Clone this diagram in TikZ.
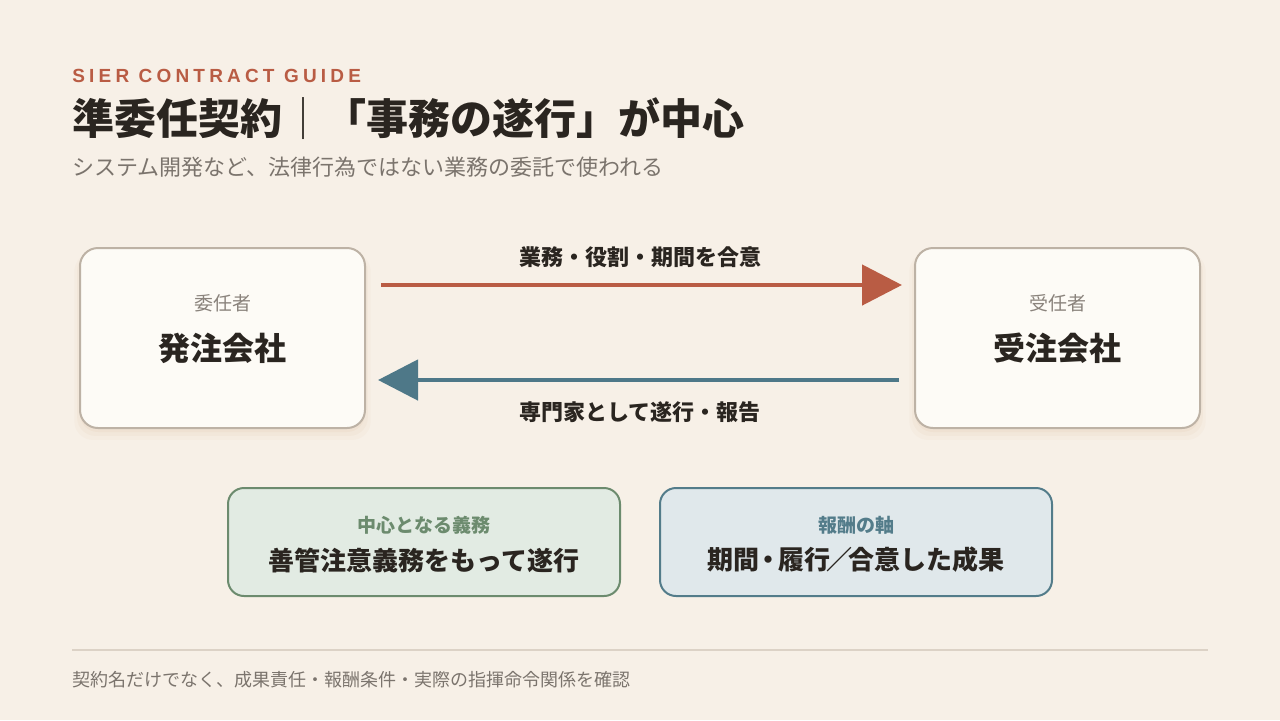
\documentclass[tikz,border=0pt]{standalone}
\usepackage{fontspec}
\setmainfont{Noto Sans CJK JP}
\newfontfamily\guidefont[LetterSpace=22]{Liberation Sans}
\usetikzlibrary{arrows.meta,shadows}
\definecolor{bg}{HTML}{F7F0E7}
\definecolor{accent}{HTML}{B95C44}
\definecolor{steel}{HTML}{4E7888}
\definecolor{ink}{HTML}{2A2520}
\definecolor{muted}{HTML}{7B746D}
\definecolor{rolegrey}{HTML}{8A837C}
\definecolor{partyline}{HTML}{BDB2A5}
\definecolor{partyfill}{HTML}{FDFBF6}
\definecolor{dutyline}{HTML}{6C8B6E}
\definecolor{dutyfill}{HTML}{E2EBE3}
\definecolor{feeline}{HTML}{537C8A}
\definecolor{feefill}{HTML}{E0E8EB}
\definecolor{rulegrey}{HTML}{DCD2C6}
\newcommand{\narrowpunct}[1]{\kern-1.8pt#1\kern-1.8pt}
\begin{document}
\begin{tikzpicture}[x=0.5pt, y=-0.5pt,
  party/.style={draw=partyline, line width=1pt, fill=partyfill, rounded corners=9pt,
    minimum width=142.5pt, minimum height=90pt,
    drop shadow={shadow xshift=0pt, shadow yshift=-4pt, shadow scale=1.04, opacity=0.03, fill=brown},
    drop shadow={shadow xshift=0pt, shadow yshift=-3pt, shadow scale=1.02, opacity=0.04, fill=brown},
    drop shadow={shadow xshift=0pt, shadow yshift=-2pt, opacity=0.05, fill=brown}},
  role/.style={inner sep=0, text=rolegrey, font=\fontsize{9.5}{11}\selectfont},
  firm/.style={inner sep=0, text=ink, font=\bfseries\fontsize{16}{19}\selectfont},
  flow/.style={line width=2.4pt, -{Triangle[length=20pt, width=20pt]}, shorten <=7.5pt, shorten >=6pt},
  flowlabel/.style={inner sep=0, text=ink, font=\bfseries\fontsize{11}{13}\selectfont},
  box/.style={line width=1pt, rounded corners=8pt, minimum width=196pt, minimum height=54pt},
  tag/.style={inner sep=0, font=\bfseries\fontsize{9.5}{11}\selectfont},
  point/.style={inner sep=0, text=ink, font=\bfseries\fontsize{13}{15}\selectfont}]
\useasboundingbox (0,0) rectangle (1280,720);
\fill[bg] (0,0) rectangle (1280,720);
\node[anchor=base west, inner sep=0, text=accent, font={\guidefont\bfseries\fontsize{9.5}{11}\selectfont}] (P_0_g) at (72,82) {SIER CONTRACT GUIDE};
\node[anchor=west, inner sep=0, text=ink, font=\bfseries\fontsize{21}{25}\selectfont] (P_0_h) at (72,119) {準委任契約{\mdseries ｜}「事務の遂行」が中心};
\node[anchor=west, inner sep=0, text=muted, font=\fontsize{11}{13}\selectfont] (P_0_s) at (72,167) {システム開発など、法律行為ではない業務の委託で使われる};
\node[party] (P_0_0) at (222.5,338) {};
\node[role] (P_0_0r) at ([yshift=17.5pt]P_0_0.center) {委任者};
\node[firm] (P_0_0f) at ([yshift=-5pt]P_0_0.center) {発注会社};
\node[party] (P_2_0) at (1057.5,338) {};
\node[role] (P_2_0r) at ([yshift=17.5pt]P_2_0.center) {受任者};
\node[firm] (P_2_0f) at ([yshift=-5pt]P_2_0.center) {受注会社};
\draw[flow, accent] ([yshift=26.5pt]P_0_0.east) -- ([yshift=26.5pt]P_2_0.west) node[midway, yshift=14pt, flowlabel] (P_1_0a) {業務・役割・期間を合意};
\draw[flow, steel] ([yshift=-21pt]P_2_0.west) -- ([yshift=-21pt]P_0_0.east) node[midway, yshift=-16pt, flowlabel] (P_1_0b) {専門家として遂行・報告};
\node[box, draw=dutyline, fill=dutyfill] (P_0_1) at (424,542) {};
\node[tag, text=dutyline] (P_0_1t) at ([yshift=8.5pt]P_0_1.center) {中心となる義務};
\node[point] (P_0_1p) at ([yshift=-9pt]P_0_1.center) {善管注意義務をもって遂行};
\node[box, draw=feeline, fill=feefill] (P_1_1) at (856,542) {};
\node[tag, text=feeline] (P_1_1t) at ([yshift=8.5pt]P_1_1.center) {報酬の軸};
\node[point] (P_1_1p) at ([yshift=-9pt]P_1_1.center) {期間\narrowpunct{・}履行\narrowpunct{／}合意した成果};
\draw[rulegrey, line width=1pt] (72,650) -- (1208,650);
\node[anchor=west, inner sep=0, text=muted, font=\fontsize{9}{11}\selectfont] (P_0_f) at (72,680) {契約名だけでなく、成果責任・報酬条件・実際の指揮命令関係を確認};
\end{tikzpicture}
\end{document}
